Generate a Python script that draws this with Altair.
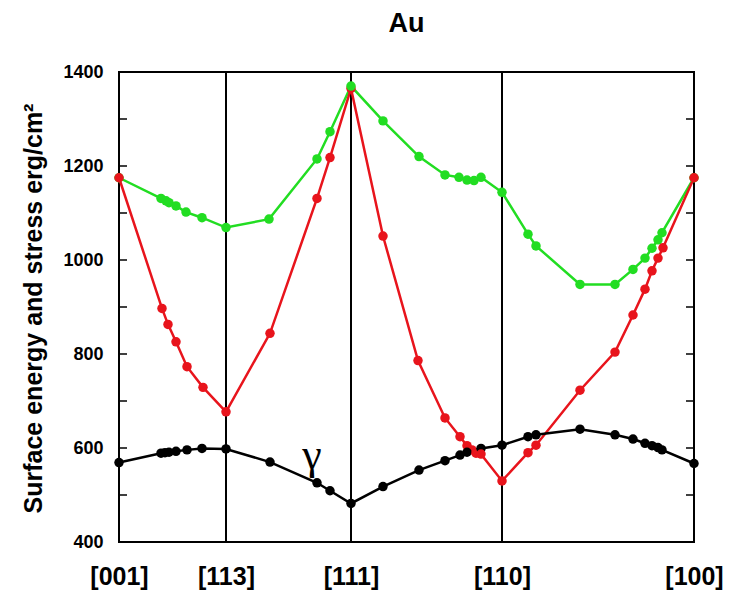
import altair as alt
import pandas as pd

# x positions along the stereographic path (arbitrary units), directions
dir_pos = [0, 107, 232, 383, 575]
dir_labels = ["[001]", "[113]", "[111]", "[110]", "[100]"]

green_x = [0, 42, 47, 50, 57, 67, 83, 107, 150, 198, 211, 232, 264, 300, 326, 340, 348, 355, 362, 383,
           409, 417, 461, 496, 514, 526, 533, 539, 543, 575]
green_y = [1175, 1131, 1126, 1122, 1115, 1102, 1090, 1069, 1087, 1215, 1273, 1370, 1296, 1220, 1181, 1176,
           1170, 1169, 1176, 1144, 1055, 1030, 948, 948, 980, 1004, 1025, 1043, 1058, 1175]

red_x = [0, 43, 49, 57, 68, 84, 107, 151, 198, 211, 232, 264, 299, 326, 341, 348, 353, 357, 362, 383,
         409, 417, 461, 496, 514, 526, 533, 539, 544, 575]
red_y = [1175, 897, 863, 826, 773, 729, 677, 844, 1131, 1218, 1365, 1051, 786, 664, 624, 605, 596, 589,
         587, 530, 590, 606, 723, 804, 883, 938, 977, 1004, 1026, 1175]

black_x = [0, 42, 46, 50, 57, 68, 83, 107, 151, 198, 211, 232, 264, 300, 326, 341, 348, 362, 383,
           409, 417, 461, 496, 514, 526, 533, 539, 543, 575]
black_y = [569, 589, 590, 591, 593, 596, 599, 598, 570, 526, 509, 482, 518, 553, 573, 585, 591, 599, 606,
           624, 628, 640, 628, 619, 610, 605, 601, 596, 567]

y_ticks = list(range(400, 1401, 100))
y_labels = list(range(400, 1401, 200))

series = [("stress1", green_x, green_y, "#22dd22"),
          ("stress2", red_x, red_y, "#e8141c"),
          ("gamma", black_x, black_y, "#000000")]

rows = []
for name, xs, ys, _ in series:
    for i, (a, b) in enumerate(zip(xs, ys)):
        rows.append({"s": name, "x": a, "y": b, "o": i})
df = pd.DataFrame(rows)

xscale = alt.Scale(domain=[0, 575], nice=False, zero=False)
yscale = alt.Scale(domain=[400, 1400], nice=False, zero=False)

label_expr = " : ".join(f"datum.value == {p} ? '{l}'" for p, l in zip(dir_pos, dir_labels)) + " : ''"

FONT = "Liberation Sans"

color = alt.Color("s:N", scale=alt.Scale(domain=[s[0] for s in series], range=[s[3] for s in series]),
                  legend=None)

base = alt.Chart(df).encode(
    x=alt.X("x:Q", scale=xscale,
            axis=alt.Axis(values=dir_pos, labelExpr=label_expr, ticks=False, grid=False, domain=False,
                          labelFontSize=25, labelFont=FONT, labelFontWeight="bold", labelColor="black",
                          labelPadding=22, labelFlush=False, labelOverlap=False, title=None)),
    y=alt.Y("y:Q", scale=yscale,
            axis=alt.Axis(values=y_labels, format="d", ticks=False, grid=False, domain=False,
                          labelFontSize=18, labelFont=FONT, labelFontWeight="bold", labelColor="black",
                          labelPadding=16, labelOverlap=False,
                          title="Surface energy and stress erg/cm²", titleFont=FONT, titleFontSize=25,
                          titleFontWeight="bold", titleColor="black", titleX=-86, titleY=236,
                          titleAngle=270, titleAlign="center", titleBaseline="middle")),
    color=color,
    order="o:Q",
)

lines = base.mark_line(strokeWidth=2.5)
points = base.mark_circle(size=90, opacity=1)

vdf = pd.DataFrame({"x": dir_pos[1:4]})
vlines = alt.Chart(vdf).mark_rule(color="black", strokeWidth=2).encode(
    x=alt.X("x:Q", scale=xscale))

tdf = pd.DataFrame({"y": y_ticks})
lticks = alt.Chart(tdf).mark_rule(color="black", strokeWidth=1.5).encode(
    y=alt.Y("y:Q", scale=yscale), x=alt.value(0), x2=alt.value(8))
rticks = alt.Chart(tdf).mark_rule(color="black", strokeWidth=1.5).encode(
    y=alt.Y("y:Q", scale=yscale), x=alt.value(567), x2=alt.value(575))

gdf = pd.DataFrame({"x": [193], "y": [584], "t": ["γ"]})
gamma_txt = alt.Chart(gdf).mark_text(font="Liberation Serif", fontSize=44, color="black",
                                     baseline="middle", align="center").encode(
    x=alt.X("x:Q", scale=xscale), y=alt.Y("y:Q", scale=yscale), text="t:N")

chart = alt.layer(vlines, lticks, rticks, lines, points, gamma_txt).properties(
    width=575, height=470,
    title=alt.TitleParams("Au", font=FONT, fontSize=27, fontWeight="bold", color="black",
                          anchor="middle", offset=25),
    autosize=alt.AutoSizeParams(type="none"),
    padding={"left": 111, "top": 64, "right": 29, "bottom": 50},
).configure_view(stroke="black", strokeWidth=2)

chart.save("out.html", embed_options={"renderer": "svg", "actions": False})
